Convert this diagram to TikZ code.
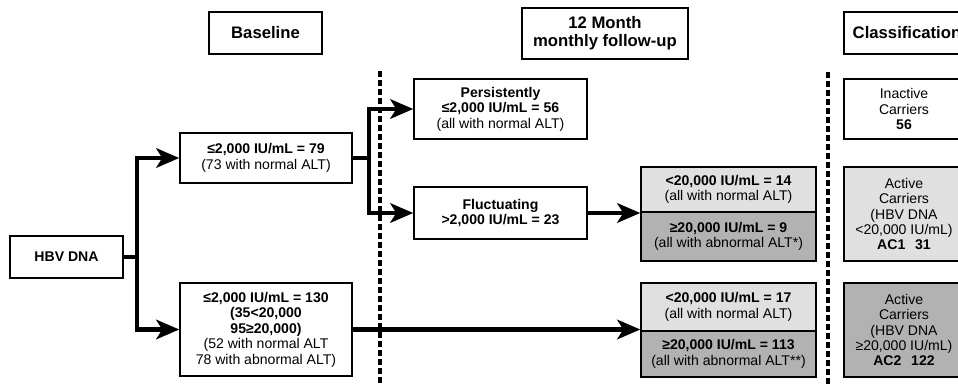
\documentclass[tikz,border=0pt]{standalone}
\usepackage{fontspec}
\setmainfont{Liberation Sans}
\usetikzlibrary{positioning, arrows.meta, calc}

\definecolor{lightbox}{gray}{0.88}
\definecolor{darkbox}{gray}{0.70}

\begin{document}
\begin{tikzpicture}[
  x=0.02cm, y=-0.02cm,
  align=center,
  font=\fontsize{8}{8.8}\selectfont,
  % Estilos de bloques
  box/.style={draw, rectangle, line width=0.85pt, inner sep=1pt, fill=white},
  headbox/.style={box, font=\fontsize{9.5}{10.3}\selectfont\bfseries},
  % Estilos de flechas
  line/.style={draw, -{Stealth[length=4.6mm, width=3.9mm, inset=1.2mm]}, line width=2.4pt},
  stub/.style={draw, line width=2.4pt},
  divider/.style={draw, line width=2pt, dash pattern=on 0.12cm off 0.06cm}
]
  \clip (0,0) rectangle (958,385);

  % ==========================================
  % COLUMN HEADERS
  % ==========================================
  \node[headbox, minimum width=2.26cm, minimum height=0.84cm] (baseline) at (265.5,33) {Baseline};
  \node[headbox, minimum width=3.32cm, minimum height=1.02cm] (followup) at (605,33.5) {12 Month\\monthly follow-up};
  \node[headbox, minimum width=2.52cm, minimum height=0.84cm] (classif) at (907,33) {Classification};

  % ==========================================
  % DIVIDERS
  % ==========================================
  \draw[divider] (380,71) -- (380,385);
  \draw[divider] (828,72) -- (828,385);

  % ==========================================
  % BASELINE
  % ==========================================
  \node[box, minimum width=2.26cm, minimum height=0.84cm] (hbv) at (66.5,257) {\textbf{HBV DNA}};

  \node[box, minimum width=3.44cm, minimum height=1.0cm] (low_base) at (266,158) {
    \textbf{≤2,000 IU/mL = 79}\\
    (73 with normal ALT)
  };

  \node[box, minimum width=3.44cm, minimum height=1.86cm] (high_base) at (266,329.5) {
    \textbf{≤2,000 IU/mL = 130}\\
    \textbf{(35<20,000}\\
    \textbf{95≥20,000)}\\
    (52 with normal ALT\\
    78 with abnormal ALT)
  };

  \coordinate (hbv_split) at ([xshift=0.26cm]hbv.east);
  \draw[stub] (hbv.east) -- (hbv_split);
  \draw[line] (hbv_split) |- (low_base.west);
  \draw[line] (hbv_split) |- (high_base.west);

  % ==========================================
  % 12 MONTH FOLLOW-UP
  % ==========================================
  \node[box, minimum width=3.46cm, minimum height=1.2cm] (persist) at (500.5,109) {
    \textbf{Persistently}\\
    \textbf{≤2,000 IU/mL = 56}\\
    (all with normal ALT)
  };

  \node[box, minimum width=3.46cm, minimum height=1.04cm] (fluct) at (500.5,213) {
    \textbf{Fluctuating}\\
    \textbf{>2,000 IU/mL = 23}
  };

  \coordinate (low_split) at ([xshift=0.32cm]low_base.east);
  \draw[stub] (low_base.east) -- (low_split);
  \draw[line] (low_split) |- (persist.west);
  \draw[line] (low_split) |- (fluct.west);

  \node[box, fill=lightbox, minimum width=3.5cm, minimum height=0.9cm] (fluct_low) at (728.5,189.5) {
    \textbf{<20,000 IU/mL = 14}\\
    (all with normal ALT)
  };
  \node[box, fill=darkbox, minimum width=3.5cm, minimum height=0.98cm] (fluct_high) at (728.5,236.5) {
    \textbf{≥20,000 IU/mL = 9}\\
    (all with abnormal ALT*)
  };

  \node[box, fill=lightbox, minimum width=3.5cm, minimum height=0.96cm] (base_low) at (728.5,307) {
    \textbf{<20,000 IU/mL = 17}\\
    (all with normal ALT)
  };
  \node[box, fill=darkbox, minimum width=3.5cm, minimum height=0.92cm] (base_high) at (728.5,354) {
    \textbf{≥20,000 IU/mL = 113}\\
    (all with abnormal ALT**)
  };

  \draw[line] (fluct.east) -- (fluct.east -| fluct_low.west);
  \draw[line] (high_base.east) -- (high_base.east -| base_low.west);

  % ==========================================
  % CLASSIFICATION
  % ==========================================
  \node[box, minimum width=2.4cm, minimum height=1.2cm] (inactive) at (904,109) {
    Inactive\\
    Carriers\\
    \textbf{56}
  };

  \node[box, fill=lightbox, minimum width=2.4cm, minimum height=1.88cm] (ac_one) at (904,214) {
    Active\\
    Carriers\\
    (HBV DNA\\
    <20,000 IU/mL)\\
    \textbf{AC1\hspace{0.7em}31}
  };

  \node[box, fill=darkbox, minimum width=2.4cm, minimum height=1.88cm] (ac_two) at (904,330) {
    Active\\
    Carriers\\
    (HBV DNA\\
    ≥20,000 IU/mL)\\
    \textbf{AC2\hspace{0.7em}122}
  };

\end{tikzpicture}
\end{document}
